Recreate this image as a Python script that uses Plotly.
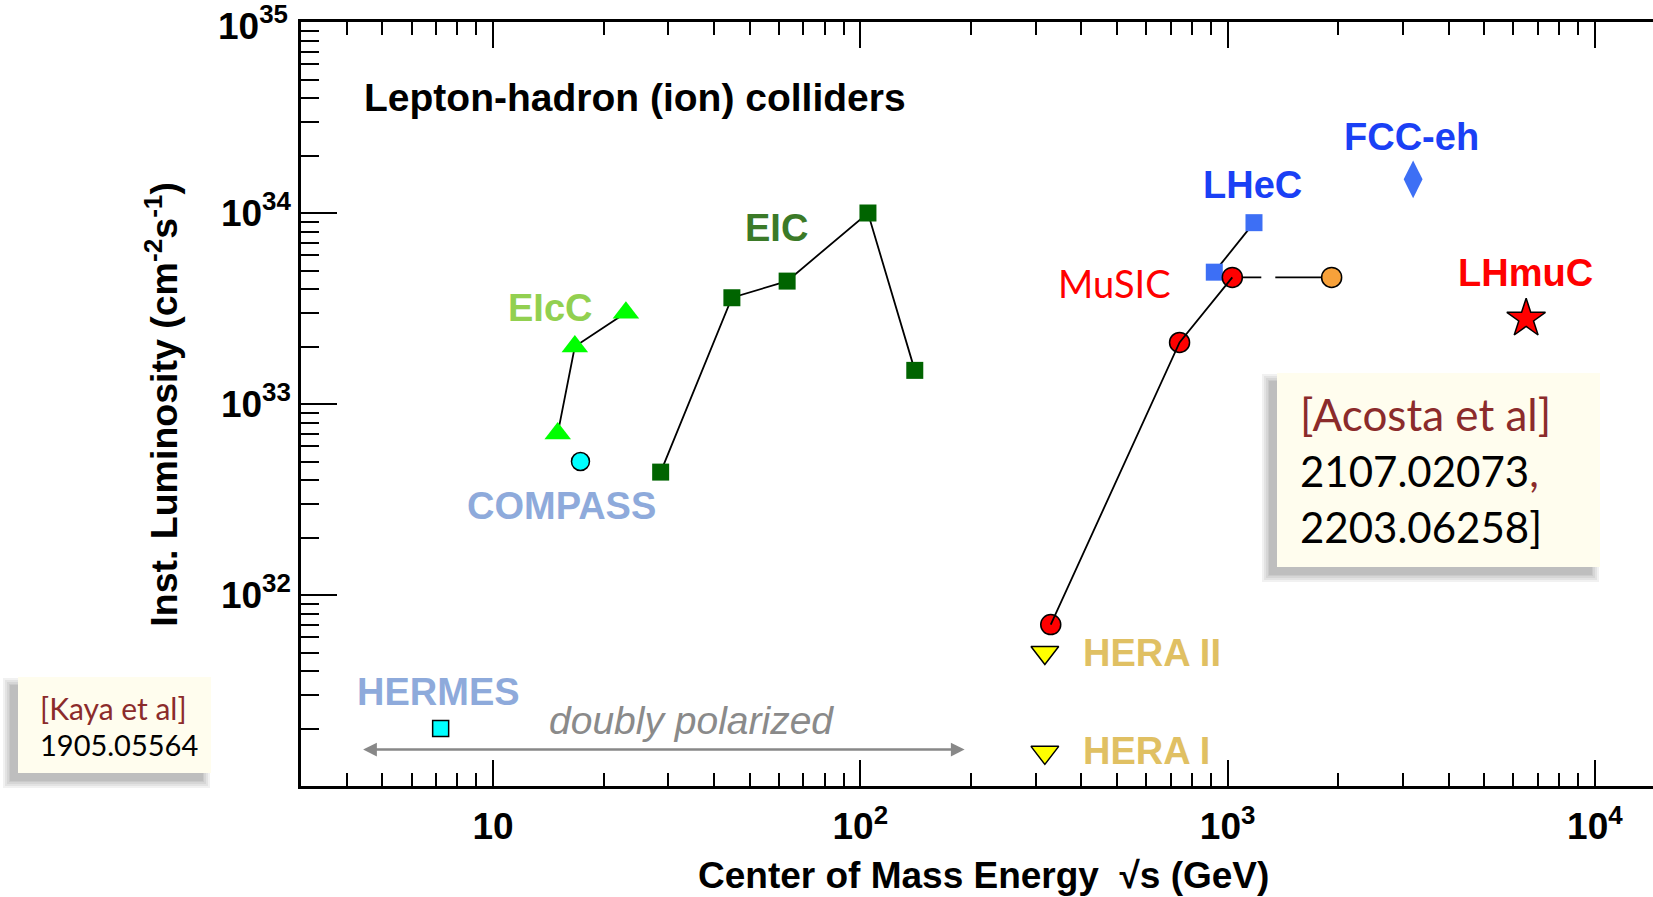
import numpy as np
import plotly.graph_objects as go

# ---------------- data ----------------
eicc_x = [15.0, 16.7, 23.0]
eicc_y = [7.0e32, 2.0e33, 3.0e33]

eic_x = [28.6, 44.7, 63.2, 104.9, 140.7]
eic_y = [4.4e32, 3.6e33, 4.4e33, 1.0e34, 1.5e33]

compass_x = [17.3]
compass_y = [5.0e32]

hermes_x = [7.2]
hermes_y = [2.0e31]

hera_x = [318, 318]
hera_y = [5.0e31, 1.5e31]

music_x = [330, 740, 1030]
music_y = [7.0e31, 2.1e33, 4.6e33]

music_upg_x = [1030, 1920]
music_upg_y = [4.6e33, 4.6e33]

lhec_x = [920, 1180]
lhec_y = [4.9e33, 8.9e33]

fcceh_x = [3200]
fcceh_y = [1.5e34]

lhmuc_x = [6500]
lhmuc_y = [2.8e33]

x_major = [10, 100, 1000, 10000]
x_major_text = ["10", "10<sup>2</sup>", "10<sup>3</sup>", "10<sup>4</sup>"]
x_minor = [4, 5, 6, 7, 8, 9, 20, 30, 40, 50, 60, 70, 80, 90,
           200, 300, 400, 500, 600, 700, 800, 900,
           2000, 3000, 4000, 5000, 6000, 7000, 8000, 9000]
y_major = [1e32, 1e33, 1e34]
y_major_text = ["10<sup>32</sup>", "10<sup>33</sup>", "10<sup>34</sup>"]
y_top_text = "10<sup>35</sup>"   # label at the very top of the y axis
y_minor = [m * 10.0 ** e for e in (31, 32, 33, 34) for m in (2, 3, 4, 5, 6, 7, 8, 9)]

# ---------------- layout geometry ----------------
W, H = 1653, 897
L, R, T, B = 301, 0, 22, 111
PW, PH = W - L - R, H - T - B


def px(x):
    return (x - L) / PW


def py(y):
    return (H - B - y) / PH


SANS = "Liberation Sans, Arial, Helvetica, sans-serif"
HUM = "Lato, Open Sans, sans-serif"

fig = go.Figure()

# EIC
fig.add_trace(go.Scatter(x=eic_x, y=eic_y, mode="lines+markers",
                         line=dict(color="black", width=1.8),
                         marker=dict(symbol="square", size=17, color="#006400",
                                     line=dict(width=0))))
# EIcC
fig.add_trace(go.Scatter(x=eicc_x, y=eicc_y, mode="lines+markers",
                         line=dict(color="black", width=1.8),
                         marker=dict(symbol="triangle-up", size=23, color="#00ff00",
                                     line=dict(width=0))))
# COMPASS
fig.add_trace(go.Scatter(x=compass_x, y=compass_y, mode="markers",
                         marker=dict(symbol="circle", size=18, color="#00ffff",
                                     line=dict(color="black", width=1.5))))
# HERMES
fig.add_trace(go.Scatter(x=hermes_x, y=hermes_y, mode="markers",
                         marker=dict(symbol="square", size=16, color="#00ffff",
                                     line=dict(color="black", width=1.5))))
# HERA
fig.add_trace(go.Scatter(x=hera_x, y=hera_y, mode="markers",
                         marker=dict(symbol="triangle-down", size=24, color="#ffff00",
                                     line=dict(color="black", width=1.5))))
# LHeC
fig.add_trace(go.Scatter(x=lhec_x, y=lhec_y, mode="lines+markers",
                         line=dict(color="black", width=1.8),
                         marker=dict(symbol="square", size=17, color="#3d6ff5",
                                     line=dict(width=0))))
# MuSIC upgrade (dashed) + orange point
fig.add_trace(go.Scatter(x=music_upg_x, y=music_upg_y, mode="lines",
                         line=dict(color="black", width=1.8, dash="29px,14px,100px")))
fig.add_trace(go.Scatter(x=music_upg_x[1:], y=music_upg_y[1:], mode="markers",
                         marker=dict(symbol="circle", size=20, color="#f7a13a",
                                     line=dict(color="black", width=1.5))))
# MuSIC markers, then line on top
fig.add_trace(go.Scatter(x=music_x, y=music_y, mode="markers",
                         marker=dict(symbol="circle", size=20, color="#ff0000",
                                     line=dict(color="black", width=1.5))))
fig.add_trace(go.Scatter(x=music_x, y=music_y, mode="lines",
                         line=dict(color="black", width=1.8)))
# FCC-eh
fig.add_trace(go.Scatter(x=fcceh_x, y=fcceh_y, mode="markers",
                         marker=dict(symbol="diamond-tall", size=27, color="#3d6ff5",
                                     line=dict(width=0))))
# LHmuC
fig.add_trace(go.Scatter(x=lhmuc_x, y=lhmuc_y, mode="markers",
                         marker=dict(symbol="star", size=29, color="#ff0000",
                                     line=dict(color="black", width=1.5))))

ann = []


def label(text, x, y, color, size=38, font=SANS, xanchor="center", bold=True):
    ann.append(dict(text=("<b>%s</b>" % text) if bold else text, x=px(x), y=py(y),
                    xref="paper", yref="paper", showarrow=False,
                    xanchor=xanchor, yanchor="middle",
                    font=dict(family=font, size=size, color=color)))


label("Lepton-hadron (ion) colliders", 361.6, 97, "black", size=39, xanchor="left")
label("EIcC", 550, 308, "#92d050")
label("EIC", 776, 228, "#3b7a28")
label("COMPASS", 561, 506, "#8eaadb")
label("HERMES", 438.5, 691.5, "#8eaadb")
label("HERA II", 1080.6, 652.5, "#e0c063", xanchor="left")
label("HERA I", 1080.6, 750.6, "#e0c063", xanchor="left")
label("MuSIC", 1114, 282.5, "#ff0000", font=HUM, bold=False)
label("LHeC", 1252, 184.5, "#1a40f5")
label("FCC-eh", 1411.6, 137, "#1a40f5")
label("LHmuC", 1525, 273, "#ff0000")
label("<i>doubly polarized</i>", 691.6, 720, "#8a8a8a", size=39, bold=False)

# top y tick label (10^35), placed like the axis labels
label(y_top_text, 290, 24, "black", size=37, xanchor="right")

# double-headed arrow
ann.append(dict(x=px(964.6), y=py(749.5), ax=-(964.6 - 361.6), ay=0,
                xref="paper", yref="paper", axref="pixel", ayref="pixel",
                text="", showarrow=True, arrowhead=2, arrowside="end+start",
                arrowsize=1.1, arrowwidth=2.5, arrowcolor="#888888"))

# axis titles
ann.append(dict(text="<b>Center of Mass Energy  √s (GeV)</b>", x=px(983.6), y=py(875),
                xref="paper", yref="paper", showarrow=False, xanchor="center", yanchor="middle",
                font=dict(family=SANS, size=37, color="black")))
ann.append(dict(text="<b>Inst. Luminosity (cm<sup>-2</sup>s<sup>-1</sup>)</b>", x=px(161.7), y=py(404),
                xref="paper", yref="paper", showarrow=False, xanchor="center", yanchor="middle",
                textangle=-90, font=dict(family=SANS, size=37.5, color="black")))

# citation boxes text
CITE = "#8b2b2b"
label("[Acosta et al]", 1298, 414, CITE, size=44, font=HUM, xanchor="left", bold=False)
label("2107.02073<span style='color:%s'>,</span>" % CITE, 1298, 471, "black", size=42, font=HUM,
      xanchor="left", bold=False)
label("2203.06258]", 1298, 527, "black", size=42, font=HUM, xanchor="left", bold=False)
label("[Kaya et al]", 38, 708, CITE, size=30, font=HUM, xanchor="left", bold=False)
label("1905.05564", 38, 744, "black", size=29, font=HUM, xanchor="left", bold=False)

shapes = []


def box(x0, y0, x1, y1):
    # soft drop shadow (down-left), then the cream box
    off = 8
    for grow in (7, 5, 3, 1, 0):
        shapes.append(dict(type="rect", xref="paper", yref="paper",
                           x0=px(x0 - off - grow), x1=px(x1 - off + grow),
                           y0=py(y1 + off + grow), y1=py(y0 + off - grow),
                           fillcolor="rgba(0,0,0,0.055)", line=dict(width=0), layer="above"))
    shapes.append(dict(type="rect", xref="paper", yref="paper",
                       x0=px(x0), x1=px(x1), y0=py(y1), y1=py(y0),
                       fillcolor="#fffdee", line=dict(width=0), layer="above"))


box(1277, 373, 1600, 567)
box(18, 677, 211, 773)

fig.update_layout(
    width=W, height=H,
    margin=dict(l=L, r=R, t=T, b=B, pad=0),
    paper_bgcolor="white", plot_bgcolor="white",
    showlegend=False,
    annotations=ann, shapes=shapes,
    xaxis=dict(type="log", range=[0.4771, 4.1583], showline=True, linecolor="black",
               linewidth=2.5, mirror="ticks", ticks="inside", ticklen=26, tickwidth=2,
               tickcolor="black", tickmode="array", tickvals=x_major, ticktext=x_major_text,
               tickfont=dict(family=SANS, size=37, color="black", weight="bold"),
               ticklabelstandoff=6,
               showgrid=False, zeroline=False,
               minor=dict(tickmode="array", tickvals=x_minor, ticks="inside", ticklen=13,
                          tickwidth=2, tickcolor="black", showgrid=False)),
    yaxis=dict(type="log", range=[31, 35], showline=True, linecolor="black",
               linewidth=2.5, mirror=False, ticks="inside", ticklen=36, tickwidth=2,
               tickcolor="black", tickmode="array", tickvals=y_major, ticktext=y_major_text,
               tickfont=dict(family=SANS, size=37, color="black", weight="bold"),
               showgrid=False, zeroline=False,
               minor=dict(tickmode="array", tickvals=y_minor, ticks="inside", ticklen=18,
                          tickwidth=2, tickcolor="black", showgrid=False)),
)

fig.write_html("out.html")
